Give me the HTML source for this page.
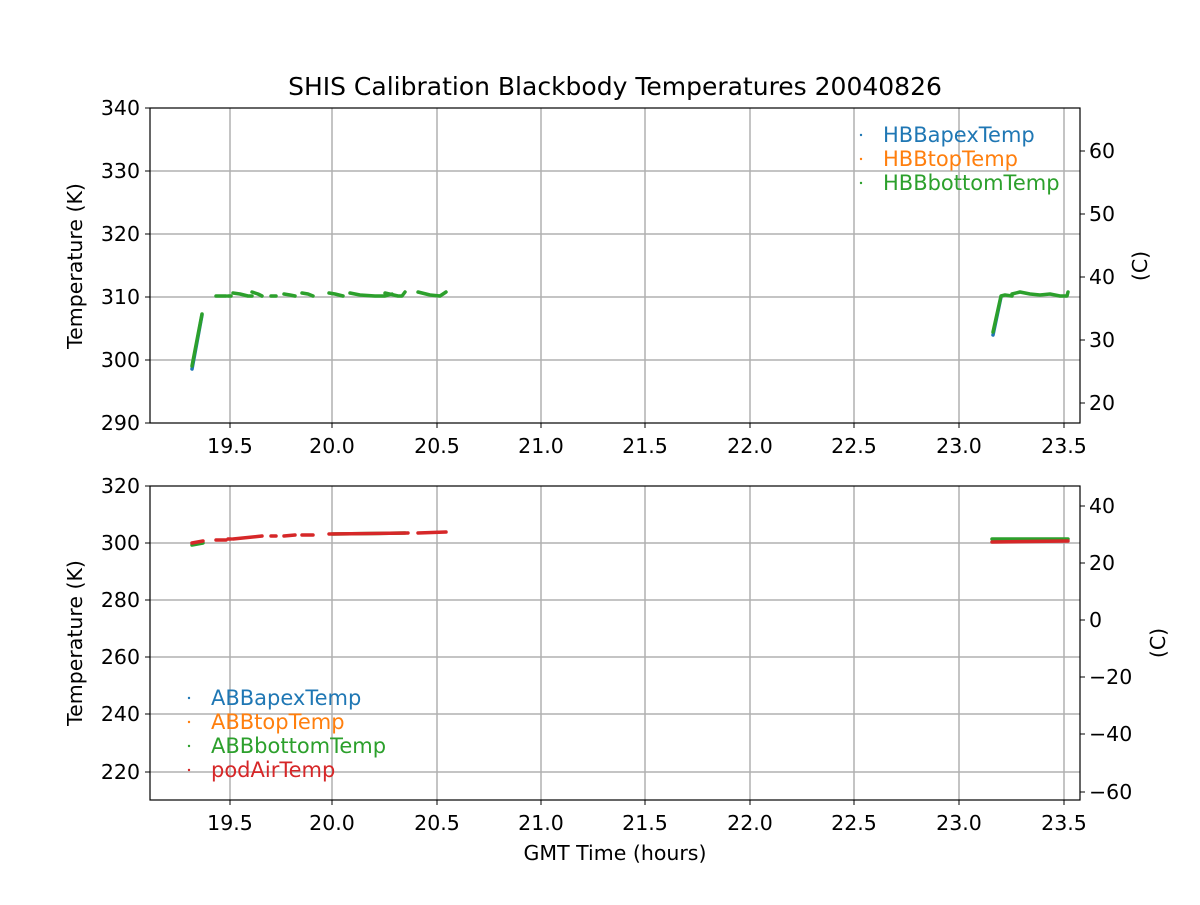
<!DOCTYPE html>
<html><head><style>
body{margin:0;background:#fff}
svg{font-family:"DejaVu Sans","Liberation Sans",sans-serif}
</style></head><body>
<svg width="1200" height="900" viewBox="0 0 1200 900" xmlns="http://www.w3.org/2000/svg">
<rect width="1200" height="900" fill="#fff"/>
<g stroke="#b0b0b0" stroke-width="1.5">
<line x1="230" y1="108" x2="230" y2="423"/><line x1="332" y1="108" x2="332" y2="423"/><line x1="437" y1="108" x2="437" y2="423"/><line x1="541" y1="108" x2="541" y2="423"/><line x1="645" y1="108" x2="645" y2="423"/><line x1="750" y1="108" x2="750" y2="423"/><line x1="854" y1="108" x2="854" y2="423"/><line x1="959" y1="108" x2="959" y2="423"/><line x1="1064" y1="108" x2="1064" y2="423"/>
<line x1="150" y1="171" x2="1080" y2="171"/><line x1="150" y1="234" x2="1080" y2="234"/><line x1="150" y1="297" x2="1080" y2="297"/><line x1="150" y1="360" x2="1080" y2="360"/>
<line x1="230" y1="486" x2="230" y2="800"/><line x1="332" y1="486" x2="332" y2="800"/><line x1="437" y1="486" x2="437" y2="800"/><line x1="541" y1="486" x2="541" y2="800"/><line x1="645" y1="486" x2="645" y2="800"/><line x1="750" y1="486" x2="750" y2="800"/><line x1="854" y1="486" x2="854" y2="800"/><line x1="959" y1="486" x2="959" y2="800"/><line x1="1064" y1="486" x2="1064" y2="800"/>
<line x1="150" y1="543" x2="1080" y2="543"/><line x1="150" y1="600" x2="1080" y2="600"/><line x1="150" y1="657" x2="1080" y2="657"/><line x1="150" y1="714" x2="1080" y2="714"/><line x1="150" y1="772" x2="1080" y2="772"/>
</g>
<g fill="none" stroke-linecap="round" stroke-linejoin="round" stroke-width="3.5">
<g stroke="#1f77b4" transform="translate(0,1)">
<polyline points="192,368 202,314"/>
<polyline points="993,334 1001,296"/>
</g>
<g stroke="#2ca02c">
<polyline points="192,366 202,314"/>
<polyline points="216,296 226,296"/><polyline points="228,296 231,296"/>
<polyline points="233,293 240,294 248,296 252,296"/>
<polyline points="252,292 258,294 262,296"/>
<polyline points="271,296 276,296"/>
<polyline points="284,294 290,295 295,296"/>
<polyline points="302,293 308,294 313,296"/>
<polyline points="329,293 335,294 343,296"/>
<polyline points="350,293 360,295 375,296 385,296 392,294"/>
<polyline points="385,293 398,296 402,296 405,292"/>
<polyline points="418,292 430,295 440,296 446,292"/>
<polyline points="993,332 1001,296 1005,295 1012,296"/>
<polyline points="1012,294 1020,292 1030,294 1040,295 1050,294 1060,296 1067,296 1068,292"/>
</g>
<g stroke="#2ca02c">
<polyline points="192,545 203,543"/>
<polyline points="992,539 1068,539"/>
<polyline points="332,534 405,533"/>
</g>
<g stroke="#d62728">
<polyline points="192,543 203,541"/>
<polyline points="216,540 226,540"/><polyline points="228,539 231,539"/>
<polyline points="233,539 262,536"/>
<polyline points="271,536 276,536"/>
<polyline points="284,536 295,535"/>
<polyline points="302,535 313,535"/>
<polyline points="329,534 408,533"/>
<polyline points="418,533 446,532"/>
<polyline points="992,542 1068,541"/>
</g>
</g>
<rect x="150" y="108" width="930" height="315" fill="none" stroke="#000" stroke-width="1.2"/>
<rect x="150" y="486" width="930" height="314" fill="none" stroke="#000" stroke-width="1.2"/>
<g stroke="#000" stroke-width="1">
<line x1="230" y1="423" x2="230" y2="428"/><line x1="332" y1="423" x2="332" y2="428"/><line x1="437" y1="423" x2="437" y2="428"/><line x1="541" y1="423" x2="541" y2="428"/><line x1="645" y1="423" x2="645" y2="428"/><line x1="750" y1="423" x2="750" y2="428"/><line x1="854" y1="423" x2="854" y2="428"/><line x1="959" y1="423" x2="959" y2="428"/><line x1="1064" y1="423" x2="1064" y2="428"/>
<line x1="145" y1="108" x2="150" y2="108"/><line x1="145" y1="171" x2="150" y2="171"/><line x1="145" y1="234" x2="150" y2="234"/><line x1="145" y1="297" x2="150" y2="297"/><line x1="145" y1="360" x2="150" y2="360"/><line x1="145" y1="423" x2="150" y2="423"/>
<line x1="1080" y1="151" x2="1085" y2="151"/><line x1="1080" y1="214" x2="1085" y2="214"/><line x1="1080" y1="277" x2="1085" y2="277"/><line x1="1080" y1="340" x2="1085" y2="340"/><line x1="1080" y1="403" x2="1085" y2="403"/>
<line x1="230" y1="800" x2="230" y2="805"/><line x1="332" y1="800" x2="332" y2="805"/><line x1="437" y1="800" x2="437" y2="805"/><line x1="541" y1="800" x2="541" y2="805"/><line x1="645" y1="800" x2="645" y2="805"/><line x1="750" y1="800" x2="750" y2="805"/><line x1="854" y1="800" x2="854" y2="805"/><line x1="959" y1="800" x2="959" y2="805"/><line x1="1064" y1="800" x2="1064" y2="805"/>
<line x1="145" y1="486" x2="150" y2="486"/><line x1="145" y1="543" x2="150" y2="543"/><line x1="145" y1="600" x2="150" y2="600"/><line x1="145" y1="657" x2="150" y2="657"/><line x1="145" y1="714" x2="150" y2="714"/><line x1="145" y1="772" x2="150" y2="772"/>
<line x1="1080" y1="506" x2="1085" y2="506"/><line x1="1080" y1="563" x2="1085" y2="563"/><line x1="1080" y1="620" x2="1085" y2="620"/><line x1="1080" y1="677" x2="1085" y2="677"/><line x1="1080" y1="734" x2="1085" y2="734"/><line x1="1080" y1="792" x2="1085" y2="792"/>
</g>
<g font-size="20.5" fill="#000">
<g text-anchor="middle">
<text x="230" y="453">19.5</text><text x="332" y="453">20.0</text><text x="437" y="453">20.5</text><text x="541" y="453">21.0</text><text x="645" y="453">21.5</text><text x="750" y="453">22.0</text><text x="854" y="453">22.5</text><text x="959" y="453">23.0</text><text x="1064" y="453">23.5</text>
<text x="230" y="830">19.5</text><text x="332" y="830">20.0</text><text x="437" y="830">20.5</text><text x="541" y="830">21.0</text><text x="645" y="830">21.5</text><text x="750" y="830">22.0</text><text x="854" y="830">22.5</text><text x="959" y="830">23.0</text><text x="1064" y="830">23.5</text>
<text x="615" y="95" font-size="25">SHIS Calibration Blackbody Temperatures 20040826</text>
<text x="615" y="860">GMT Time (hours)</text>
</g>
<g text-anchor="end">
<text x="140" y="115">340</text><text x="140" y="178">330</text><text x="140" y="241">320</text><text x="140" y="304">310</text><text x="140" y="367">300</text><text x="140" y="430">290</text>
<text x="140" y="493">320</text><text x="140" y="550">300</text><text x="140" y="607">280</text><text x="140" y="664">260</text><text x="140" y="721">240</text><text x="140" y="779">220</text>
</g>
<text x="1089" y="158">60</text><text x="1089" y="221">50</text><text x="1089" y="284">40</text><text x="1089" y="347">30</text><text x="1089" y="410">20</text>
<text x="1089" y="513">40</text><text x="1089" y="570">20</text><text x="1089" y="627">0</text><text x="1089" y="684">−20</text><text x="1089" y="741">−40</text><text x="1089" y="799">−60</text>
<text transform="translate(82,266) rotate(-90)" text-anchor="middle">Temperature (K)</text>
<text transform="translate(82,643) rotate(-90)" text-anchor="middle">Temperature (K)</text>
<text transform="translate(1147,266) rotate(-90)" text-anchor="middle">(C)</text>
<text transform="translate(1165,643) rotate(-90)" text-anchor="middle">(C)</text>
<g font-size="21">
<text x="883" y="142" fill="#1f77b4">HBBapexTemp</text>
<text x="883" y="166" fill="#ff7f0e">HBBtopTemp</text>
<text x="883" y="190" fill="#2ca02c">HBBbottomTemp</text>
<text x="211" y="705" fill="#1f77b4">ABBapexTemp</text>
<text x="211" y="729" fill="#ff7f0e">ABBtopTemp</text>
<text x="211" y="753" fill="#2ca02c">ABBbottomTemp</text>
<text x="211" y="777" fill="#d62728">podAirTemp</text>
</g>
</g>
<circle cx="861" cy="135" r="1.2" fill="#1f77b4"/><circle cx="861" cy="159" r="1.2" fill="#ff7f0e"/><circle cx="861" cy="183" r="1.2" fill="#2ca02c"/>
<circle cx="189" cy="698" r="1.2" fill="#1f77b4"/><circle cx="189" cy="722" r="1.2" fill="#ff7f0e"/><circle cx="189" cy="746" r="1.2" fill="#2ca02c"/><circle cx="189" cy="770" r="1.2" fill="#d62728"/>
</svg>
</body></html>
